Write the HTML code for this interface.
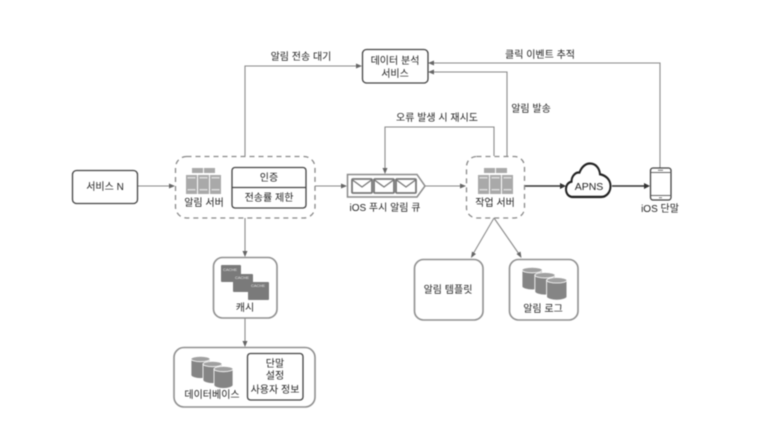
<!DOCTYPE html>
<html><head><meta charset="utf-8">
<style>
html,body{margin:0;padding:0;background:#fff;width:771px;height:434px;overflow:hidden}
svg{display:block;filter:blur(.5px)}
text{font-family:"Liberation Sans","Noto Sans CJK KR",sans-serif;font-size:10px;fill:#222;text-anchor:middle}
.l{fill:none;stroke:#8a8a8a;stroke-width:1.1}
.d{fill:none;stroke:#333;stroke-width:1.6}
.g{fill:#fff;stroke:#8f8f8f;stroke-width:1.6}
.b{fill:#fff;stroke:#444;stroke-width:1.3}
.da{fill:none;stroke:#888;stroke-width:1.3;stroke-dasharray:5 4}
.ah{fill:#666}
.s{fill:#a9a9a9}
.k{fill:#dcdcdc}
.c{fill:#7a7a7a}
.ct{fill:#e8e8e8;font-size:4px;text-anchor:start}
</style></head><body>
<svg width="771" height="434" viewBox="0 0 771 434" xmlns="http://www.w3.org/2000/svg">
<defs>
<g id="srv">
<rect class="s" x="6" y="0" width="11" height="5"/><rect class="s" x="18" y="0" width="11" height="5"/>
<rect class="s" x="0" y="7" width="11" height="19"/><rect class="s" x="12" y="7" width="11" height="19"/><rect class="s" x="24" y="7" width="11" height="19"/>
<rect class="k" x="1.500" y="9" width="8" height="1.500"/><rect class="k" x="13.500" y="9" width="8" height="1.500"/><rect class="k" x="25.500" y="9" width="8" height="1.500"/>
<rect class="k" x="1.500" y="21" width="8" height="1.500"/><rect class="k" x="13.500" y="21" width="8" height="1.500"/><rect class="k" x="25.500" y="21" width="8" height="1.500"/>
</g>
<g id="cyl">
<path d="M0 3v16c0 2 5 3.500 9.500 3.500s9.500-1.500 9.500-3.500V3z" fill="#858585" stroke="#fff" stroke-width=".8"/>
<ellipse cx="9.500" cy="3" rx="9.500" ry="2.700" fill="#a0a0a0" stroke="#fff" stroke-width=".8"/>
</g>
<g id="db">
<use href="#cyl" x="0" y="0"/><use href="#cyl" x="12" y="5"/><use href="#cyl" x="23" y="10"/>
</g>
<g id="env">
<rect x="0" y="0" width="20" height="14" rx="1" fill="#fff" stroke="#777" stroke-width="1.800"/>
<path d="M0.500 1l9.500 7 9.500-7" fill="none" stroke="#777" stroke-width="1.300"/>
</g>
</defs>

<!-- connectors -->
<path class="l" d="M137 186H170"/><path class="ah" d="M175 186l-6-2.500v5z"/>
<path class="l" d="M245 156V66H357"/><path class="ah" d="M362 66l-6-2.500v5z"/>
<path class="l" d="M660 168V63H433"/><path class="ah" d="M428 63l6-2.500v5z"/>
<path class="l" d="M507 156V72H433"/><path class="ah" d="M428 72l6-2.500v5z"/>
<path class="l" d="M494 156V127H385V169"/><path class="ah" d="M385 174l-2.500-6h5z"/>
<path class="l" d="M315 186H342"/><path class="ah" d="M347 186l-6-2.500v5z"/>
<path class="l" d="M425 186H461"/><path class="ah" d="M466 186l-6-2.500v5z"/>
<path class="d" d="M525 186H560"/><path fill="#333" d="M566 186l-6-3v6z"/>
<path class="d" d="M612 186H645"/><path fill="#333" d="M650 186l-6-3v6z"/>
<path class="l" d="M245 218V252"/><path class="ah" d="M245 257l-2.500-6h5z"/>
<path class="l" d="M245 318V342"/><path class="ah" d="M245 347l-2.500-6h5z"/>
<path class="l" d="M494 218L473 254M494 218L519 254"/>
<path class="ah" d="M471 258l1-6.500 4 2.500z"/><path class="ah" d="M521.500 258l-5-4 4-2.500z"/>

<!-- service N -->
<rect class="b" x="72.500" y="170.500" width="65" height="33" rx="4"/>
<text x="105" y="190">서비스 N</text>

<!-- notification server -->
<rect class="da" x="175.500" y="156.500" width="139.500" height="61.500" rx="11"/>
<use href="#srv" x="186" y="168"/>
<text x="204" y="206">알림 서버</text>
<rect class="b" x="232" y="167.500" width="74" height="40.500" rx="3"/>
<path stroke="#444" stroke-width="1.200" d="M232 187.500H306"/>
<text x="269" y="181">인증</text>
<text x="269" y="201">전송률 제한</text>

<!-- analytics -->
<rect class="b" x="362.500" y="49.500" width="65.500" height="33.500" rx="4"/>
<text x="395" y="64">데이터 분석</text>
<text x="395" y="77">서비스</text>

<text x="301" y="60">알림 전송 대기</text>
<text x="540" y="58">클릭 이벤트 추적</text>
<text x="437" y="121">오류 발생 시 재시도</text>
<text x="531" y="112">알림 발송</text>

<!-- queue -->
<path d="M347.500 174.500H417L425 186L417 197H347.500z" fill="#fff" stroke="#8a8a8a" stroke-width="1.500"/>
<use href="#env" x="352" y="179"/><use href="#env" x="374" y="179"/><use href="#env" x="396" y="179"/>
<text x="385" y="211">iOS 푸시 알림 큐</text>

<!-- worker -->
<rect class="da" x="466.500" y="156.500" width="58" height="61.500" rx="10"/>
<use href="#srv" x="478" y="168"/>
<text x="495" y="206">작업 서버</text>

<!-- APNS -->
<path transform="matrix(1,0,0,1.133,0,-24)" d="M573 195c-5 0-7-3.500-7-7 0-3.500 2.500-6 5.500-6.500 0-5 4-8.500 8-8 2-5 6-8 10.500-8 5.500 0 9.500 4 10 9.500 .5 .1 1 .1 1.500 .3 5 1.300 9 5 9 10 0 5.500-4 9.700-9.500 9.700z" fill="#fff" stroke="#222" stroke-width="2"/>
<text x="589" y="190" style="font-size:10.500px">APNS</text>

<!-- iOS device -->
<rect x="650.500" y="168" width="20.500" height="32" rx="2.500" fill="#fff" stroke="#444" stroke-width="1.300"/>
<path d="M651 172.500H671M651 195.500H671" stroke="#666" stroke-width=".9"/>
<path d="M658 170.200h5M659 197.700h3" stroke="#777" stroke-width="1"/>
<text x="660" y="212">iOS 단말</text>

<!-- cache -->
<rect class="g" x="213.500" y="257.500" width="63.500" height="60.500" rx="9"/>
<rect class="c" x="221" y="265" width="20" height="17" rx="1"/><text class="ct" x="223" y="271">CACHE</text>
<rect class="c" x="233" y="274" width="20" height="18" rx="1"/><text class="ct" x="235" y="279">CACHE</text>
<rect class="c" x="248" y="282" width="21" height="18" rx="1"/><text class="ct" x="251" y="287">CACHE</text>
<text x="245" y="311">캐시</text>

<!-- DB -->
<rect class="g" x="174" y="347.500" width="141" height="59.500" rx="10"/>
<use href="#db" x="191" y="356"/>
<text x="212" y="398">데이터베이스</text>
<rect class="b" x="247.500" y="353.500" width="55.500" height="46.500" rx="3"/>
<text x="275" y="367">단말</text>
<text x="275" y="379">설정</text>
<text x="275" y="393">사용자 정보</text>

<!-- template -->
<rect class="g" x="414.500" y="259.500" width="68.500" height="60.500" rx="9"/>
<text x="448" y="293">알림 템플릿</text>

<!-- log -->
<rect class="g" x="509.500" y="259.500" width="68.500" height="60.500" rx="9"/>
<use href="#db" transform="translate(522,267) scale(1.07,1.02)"/>
<text x="543" y="312">알림 로그</text>
</svg>
</body></html>
